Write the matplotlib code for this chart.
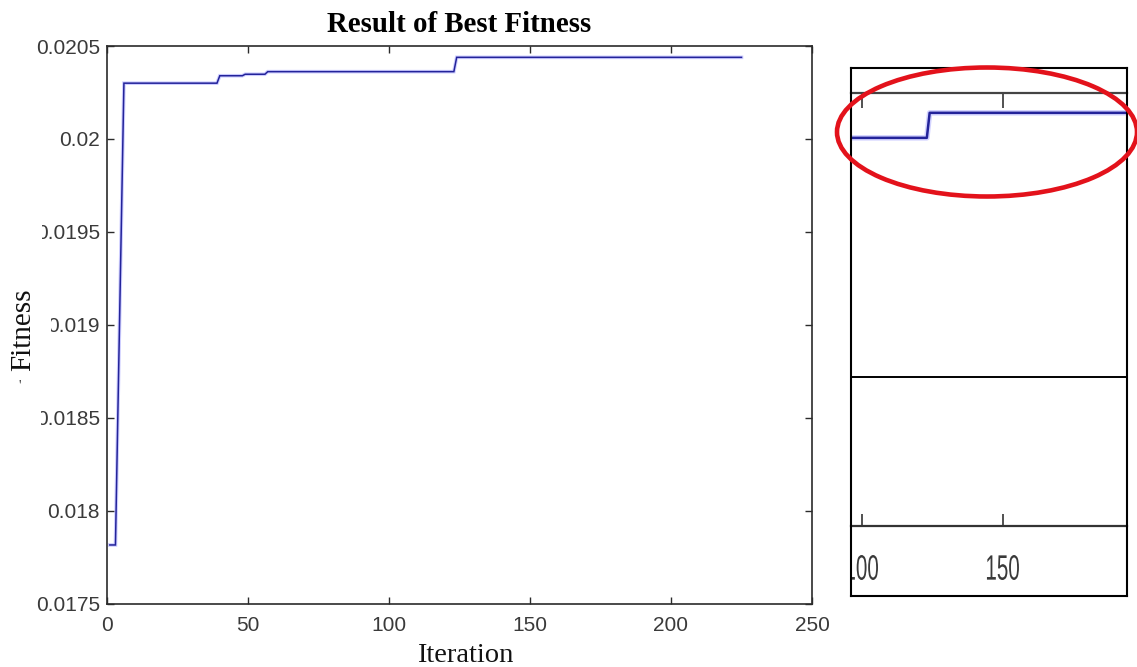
import matplotlib
matplotlib.use('Agg')
import matplotlib.pyplot as plt
from matplotlib.patches import Ellipse, Polygon, PathPatch
from matplotlib.textpath import TextPath
from matplotlib.font_manager import FontProperties
from matplotlib.ticker import FixedLocator, FormatStrFormatter
import matplotlib.transforms as mtransforms

# best fitness per iteration (breakpoints of the convergence curve)
iters = [1, 3, 6, 39, 40, 48, 49, 56, 57, 123, 124, 225]
fitness = [0.017815, 0.017815, 0.02030, 0.02030, 0.02034, 0.02034,
           0.020348, 0.020348, 0.020362, 0.020362, 0.020439, 0.020439]

x_ticks = [0, 50, 100, 150, 200, 250]
y_ticks = [0.0175, 0.018, 0.0185, 0.019, 0.0195, 0.02, 0.0205]

# zoomed view around the last improvement
zoom_xlim = (96.1, 194.0)
zoom_ylim = (0.019626, 0.0205)
zoom_ticks = [100, 150]

W, H = 1137, 667
SERIF = 'Liberation Serif'
SANS = 'Liberation Sans'
LINE_DARK = '#23239a'
LINE_HALO = '#7070ff'

fig = plt.figure(figsize=(W / 100, H / 100), dpi=100)
fig.patch.set_facecolor('white')

# ---- main convergence plot
ax = fig.add_axes([107 / W, 1 - 603.5 / H, 705 / W, 557.5 / H])
ax.plot(iters, fitness, color=LINE_HALO, lw=2.6, alpha=0.35, solid_joinstyle='miter')
ax.plot(iters, fitness, color=LINE_DARK, lw=1.1, solid_joinstyle='miter')
ax.set_xlim(0, 250)
ax.set_ylim(0.0175, 0.0205)
ax.xaxis.set_major_locator(FixedLocator(x_ticks))
ax.yaxis.set_major_locator(FixedLocator(y_ticks))
ax.yaxis.set_major_formatter(FormatStrFormatter('%g'))
ax.tick_params(direction='in', length=5, width=1, color='#2b2b2b',
               top=True, right=True, labelsize=15, labelcolor='#3a3a3a')
ax.tick_params(axis='x', pad=9)
ax.tick_params(axis='y', pad=5)
for lab in ax.get_xticklabels() + ax.get_yticklabels():
    lab.set_family(SANS)
for sp in ax.spines.values():
    sp.set_color('#2b2b2b')
    sp.set_linewidth(1.2)

fig.text(459.5 / W, 1 - 32 / H, 'Result of Best Fitness', family=SERIF,
         weight='bold', fontsize=20.8, ha='center', va='baseline')
fig.text(465 / W, 1 - 662 / H, 'Iteration', family=SERIF, fontsize=20.5,
         ha='center', va='baseline', color='#111111')

# white patch over the left edge of the y tick labels, with the axis name on it
mask = Polygon([(0, 190), (42, 190), (42, 250), (51, 300), (51, 350),
                (41, 395), (41, 445), (0, 445)], closed=True,
               transform=mtransforms.Affine2D().scale(1 / W, -1 / H).translate(0, 1) + fig.transFigure,
               facecolor='white', edgecolor='none', zorder=5)
fig.add_artist(mask)
fig.text(23 / W, 1 - 330 / H, 'Fitness', family=SERIF, fontsize=21,
         rotation=90, ha='center', va='center', color='#111111', zorder=6)
fig.text(20 / W, 1 - 386 / H, "'", family=SERIF, fontsize=10,
         ha='center', va='center', color='#333333', zorder=6)

# ---- zoom panel on the right
left, width = 851 / W, 276 / W
ax_zoom = fig.add_axes([left, 1 - 377 / H, width, (377 - 93) / H], facecolor='none')
ax_zoom.plot(iters, fitness, color=LINE_HALO, lw=4.0, alpha=0.3)
ax_zoom.plot(iters, fitness, color=LINE_DARK, lw=1.8)
ax_zoom.set_xlim(*zoom_xlim)
ax_zoom.set_ylim(*zoom_ylim)
ax_zoom.xaxis.tick_top()
ax_zoom.xaxis.set_major_locator(FixedLocator(zoom_ticks))
ax_zoom.tick_params(axis='x', direction='in', length=11, width=1.2, color='#333333',
                    labeltop=False, labelbottom=False)
ax_zoom.set_yticks([])
ax_zoom.spines['left'].set_visible(False)
ax_zoom.spines['right'].set_visible(False)
ax_zoom.spines['top'].set_color('#444444')
ax_zoom.spines['top'].set_linewidth(1.6)
ax_zoom.spines['bottom'].set_color('black')
ax_zoom.spines['bottom'].set_linewidth(1.4)

ax_bot = fig.add_axes([left, 1 - 526 / H, width, (526 - 377) / H], facecolor='none')
ax_bot.set_xlim(*zoom_xlim)
ax_bot.xaxis.set_major_locator(FixedLocator(zoom_ticks))
ax_bot.tick_params(axis='x', direction='in', length=9, width=1.2, color='#333333',
                   labelbottom=False)
ax_bot.set_yticks([])
for side in ['left', 'right', 'top']:
    ax_bot.spines[side].set_visible(False)
ax_bot.spines['bottom'].set_color('#333333')
ax_bot.spines['bottom'].set_linewidth(1.6)

ax_box = fig.add_axes([left, 1 - 596 / H, width, (596 - 68) / H], facecolor='none', zorder=3)
ax_box.set_xticks([])
ax_box.set_yticks([])
for sp in ax_box.spines.values():
    sp.set_color('black')
    sp.set_linewidth(1.5)

# stretched tick numbers under the zoom panel, clipped by its frame
prop = FontProperties(family=SANS)
to_box = mtransforms.blended_transform_factory(ax_box.transData, ax_box.transAxes)
for t in zoom_ticks:
    tp = TextPath((0, 0), str(t), size=1, prop=prop)
    ext = tp.get_extents()
    sx = 32 / ext.width
    sy = 25 / ext.height
    trans = (mtransforms.Affine2D()
             .translate(-(ext.x0 + ext.width / 2), -ext.y0)
             .scale(sx, sy)
             + mtransforms.ScaledTranslation(t, (596 - 580) / 528, to_box))
    ax_box.add_patch(PathPatch(tp, transform=trans, facecolor='#3a3a3a',
                               edgecolor='none', clip_on=True))
ax_box.set_xlim(*zoom_xlim)
ax_box.set_ylim(0, 1)

fig.add_artist(Ellipse((987 / W, 1 - 132 / H), 300 / W, 129 / H,
                       transform=fig.transFigure, fill=False,
                       edgecolor='#e3121b', linewidth=3.3, zorder=10))

fig.savefig('out.png', dpi=100, facecolor='white')
